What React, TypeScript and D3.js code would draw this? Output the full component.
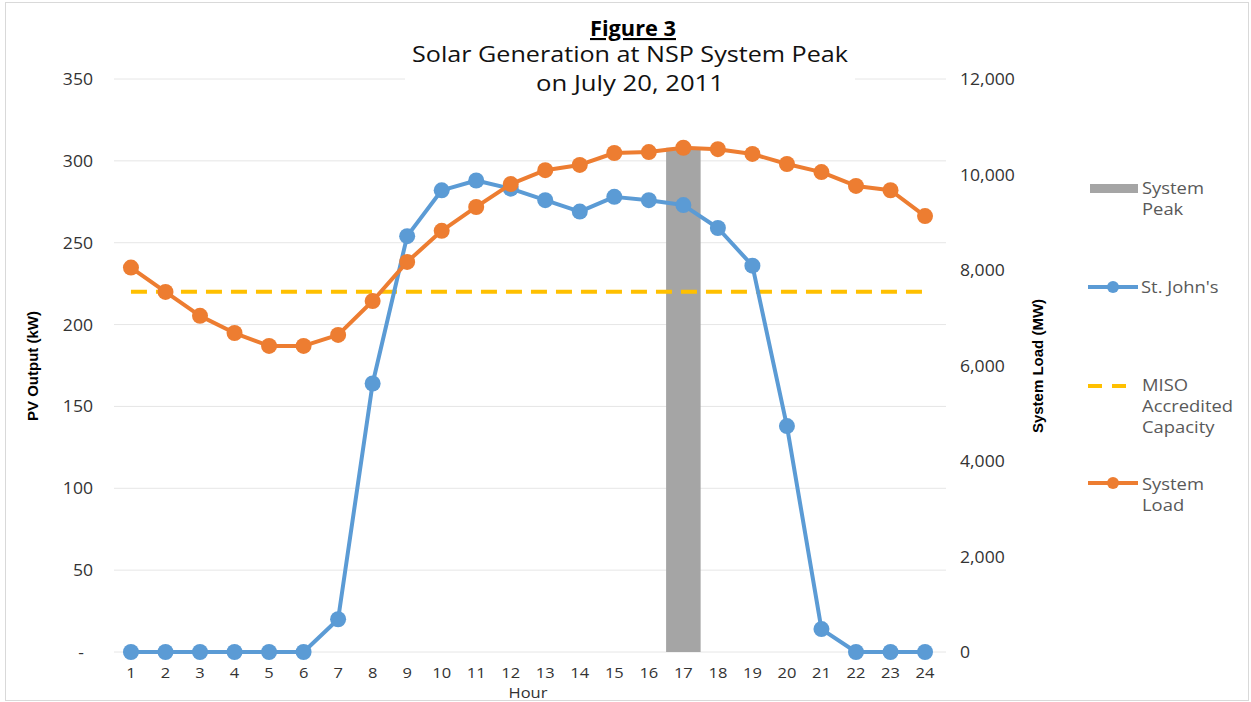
import React from "react";
import * as d3 from "d3";

// hours on the x axis
const hours = d3.range(1, 25).map(String);
// PV output (kW), St. John's
const stJohns = [0, 0, 0, 0, 0, 0, 20, 164, 254, 282, 288, 283, 276, 269, 278, 276, 273, 259, 236, 138, 14, 0, 0, 0];
// system load (MW)
const systemLoad = [8050, 7540, 7040, 6680, 6410, 6410, 6640, 7350, 8170, 8820, 9320, 9800, 10090, 10200, 10450, 10470, 10560, 10530, 10430, 10220, 10050, 9760, 9670, 9130];
const misoCapacity = 220;
const peakHour = "17";
const leftTicks = [0, 50, 100, 150, 200, 250, 300, 350];
const rightTicks = [0, 2000, 4000, 6000, 8000, 10000, 12000];

const W = 1251;
const H = 702;
const gridLeft = 114;
const gridRight = 946;
const top = 79;
const bottom = 652;

const BLUE = "#5B9BD5";
const ORANGE = "#ED7D31";
const YELLOW = "#FFC000";
const GRAY = "#A5A5A5";
const TEXT = "#333333";
const FONT = "'Open Sans', 'DejaVu Sans', sans-serif";
const NARROW = "'Liberation Sans Narrow', 'Liberation Sans', sans-serif";

// text stretched horizontally a little, like the source image
function T(props: {
  x: number;
  y: number;
  sx?: number;
  anchor?: string;
  size?: number;
  fill?: string;
  weight?: string;
  children: React.ReactNode;
}) {
  const { x, y, sx = 1.1, anchor = "start", size = 16, fill = TEXT, weight = "normal" } = props;
  return (
    <text
      transform={`translate(${x},${y}) scale(${sx},1)`}
      textAnchor={anchor}
      fontFamily={FONT}
      fontSize={size}
      fontWeight={weight}
      fill={fill}
    >
      {props.children}
    </text>
  );
}

export default function App() {
  const x = d3.scaleBand().domain(hours).range([113.7, 942.3]).paddingInner(0);
  const cx = (h: string) => (x(h) as number) + x.bandwidth() / 2;
  const yL = d3.scaleLinear().domain([0, 350]).range([bottom, top]);
  const yR = d3.scaleLinear().domain([0, 12000]).range([bottom, top]);
  const fmt = d3.format(",");

  const blueLine = d3
    .line<number>()
    .x((_, i) => cx(hours[i]))
    .y((d) => yL(d));
  const orangeLine = d3
    .line<number>()
    .x((_, i) => cx(hours[i]))
    .y((d) => yR(d));

  const peakIdx = hours.indexOf(peakHour);

  return (
    <svg
      width={W}
      height={H}
      style={{ position: "absolute", left: 0, top: 0, background: "#fff" }}
    >
      <rect x={5.5} y={2.5} width={W - 8} height={H - 4} fill="#fff" stroke="#d9d9d9" />

      {/* gridlines */}
      {leftTicks.map((t) => (
        <line key={t} x1={gridLeft} x2={gridRight} y1={yL(t)} y2={yL(t)} stroke="#e6e6e6" strokeWidth={1} />
      ))}

      {/* left ticks (zero shown as an accounting dash) */}
      {leftTicks.map((t) => (
        <T key={"l" + t} x={t === 0 ? 84 : 93} y={yL(t) + 6} anchor="end">
          {t === 0 ? "-" : String(t)}
        </T>
      ))}
      {/* right ticks */}
      {rightTicks.map((t) => (
        <T key={"r" + t} x={960} y={yR(t) + 6}>
          {fmt(t)}
        </T>
      ))}
      {/* x ticks */}
      {hours.map((h) => (
        <T key={"x" + h} x={cx(h)} y={678} anchor="middle" size={15}>
          {h}
        </T>
      ))}
      <T x={528} y={698} anchor="middle" size={15}>
        Hour
      </T>

      <text
        transform={`translate(38,366) rotate(-90)`}
        textAnchor="middle"
        fontFamily={NARROW}
        fontWeight="bold"
        fontSize={15}
        fill="#000"
      >
        PV Output (kW)
      </text>
      <text
        transform={`translate(1043,366) rotate(-90)`}
        textAnchor="middle"
        fontFamily={NARROW}
        fontWeight="bold"
        fontSize={15}
        fill="#000"
      >
        System Load (MW)
      </text>

      {/* system peak bar */}
      <rect
        x={x(peakHour)}
        y={yR(systemLoad[peakIdx])}
        width={x.bandwidth()}
        height={bottom - yR(systemLoad[peakIdx])}
        fill={GRAY}
      />

      {/* MISO accredited capacity */}
      <line
        x1={cx(hours[0])}
        x2={cx(hours[hours.length - 1])}
        y1={yL(misoCapacity)}
        y2={yL(misoCapacity)}
        stroke={YELLOW}
        strokeWidth={4}
        strokeDasharray="16 9"
      />

      {/* St. John's */}
      <path d={blueLine(stJohns) ?? ""} fill="none" stroke={BLUE} strokeWidth={4} strokeLinejoin="round" />
      {stJohns.map((v, i) => (
        <circle key={"b" + i} cx={cx(hours[i])} cy={yL(v)} r={8} fill={BLUE} />
      ))}

      {/* System load */}
      <path d={orangeLine(systemLoad) ?? ""} fill="none" stroke={ORANGE} strokeWidth={4} strokeLinejoin="round" />
      {systemLoad.map((v, i) => (
        <circle key={"o" + i} cx={cx(hours[i])} cy={yR(v)} r={8} fill={ORANGE} />
      ))}

      {/* title */}
      <rect x={405} y={60} width={450} height={36} fill="#fff" />
      <text x={590} y={36} textLength={86} lengthAdjust="spacingAndGlyphs" fontFamily={FONT} fontWeight="bold" fontSize={21} fill="#000" textDecoration="underline">
        Figure 3
      </text>
      <text x={412} y={62} textLength={436} lengthAdjust="spacingAndGlyphs" fontFamily={FONT} fontSize={21} fill="#111">
        Solar Generation at NSP System Peak
      </text>
      <text x={536} y={91} textLength={188} lengthAdjust="spacingAndGlyphs" fontFamily={FONT} fontSize={21} fill="#111">
        on July 20, 2011
      </text>

      {/* legend */}
      <rect x={1090} y={184} width={48} height={9} fill={GRAY} />
      <T x={1142} y={194} size={16} sx={1.15} fill="#595959">System</T>
      <T x={1142} y={215} size={16} sx={1.15} fill="#595959">Peak</T>

      <line x1={1088} x2={1138} y1={287} y2={287} stroke={BLUE} strokeWidth={4} />
      <circle cx={1113} cy={287} r={6} fill={BLUE} />
      <T x={1141} y={293} size={16} sx={1.15} fill="#595959">St. John's</T>

      <line x1={1088} x2={1130} y1={386} y2={386} stroke={YELLOW} strokeWidth={4} strokeDasharray="14 10" />
      <T x={1142} y={391} size={16} sx={1.15} fill="#595959">MISO</T>
      <T x={1142} y={412} size={16} sx={1.15} fill="#595959">Accredited</T>
      <T x={1142} y={433} size={16} sx={1.15} fill="#595959">Capacity</T>

      <line x1={1088} x2={1138} y1={483} y2={483} stroke={ORANGE} strokeWidth={4} />
      <circle cx={1113} cy={483} r={6} fill={ORANGE} />
      <T x={1142} y={490} size={16} sx={1.15} fill="#595959">System</T>
      <T x={1142} y={511} size={16} sx={1.15} fill="#595959">Load</T>
    </svg>
  );
}
